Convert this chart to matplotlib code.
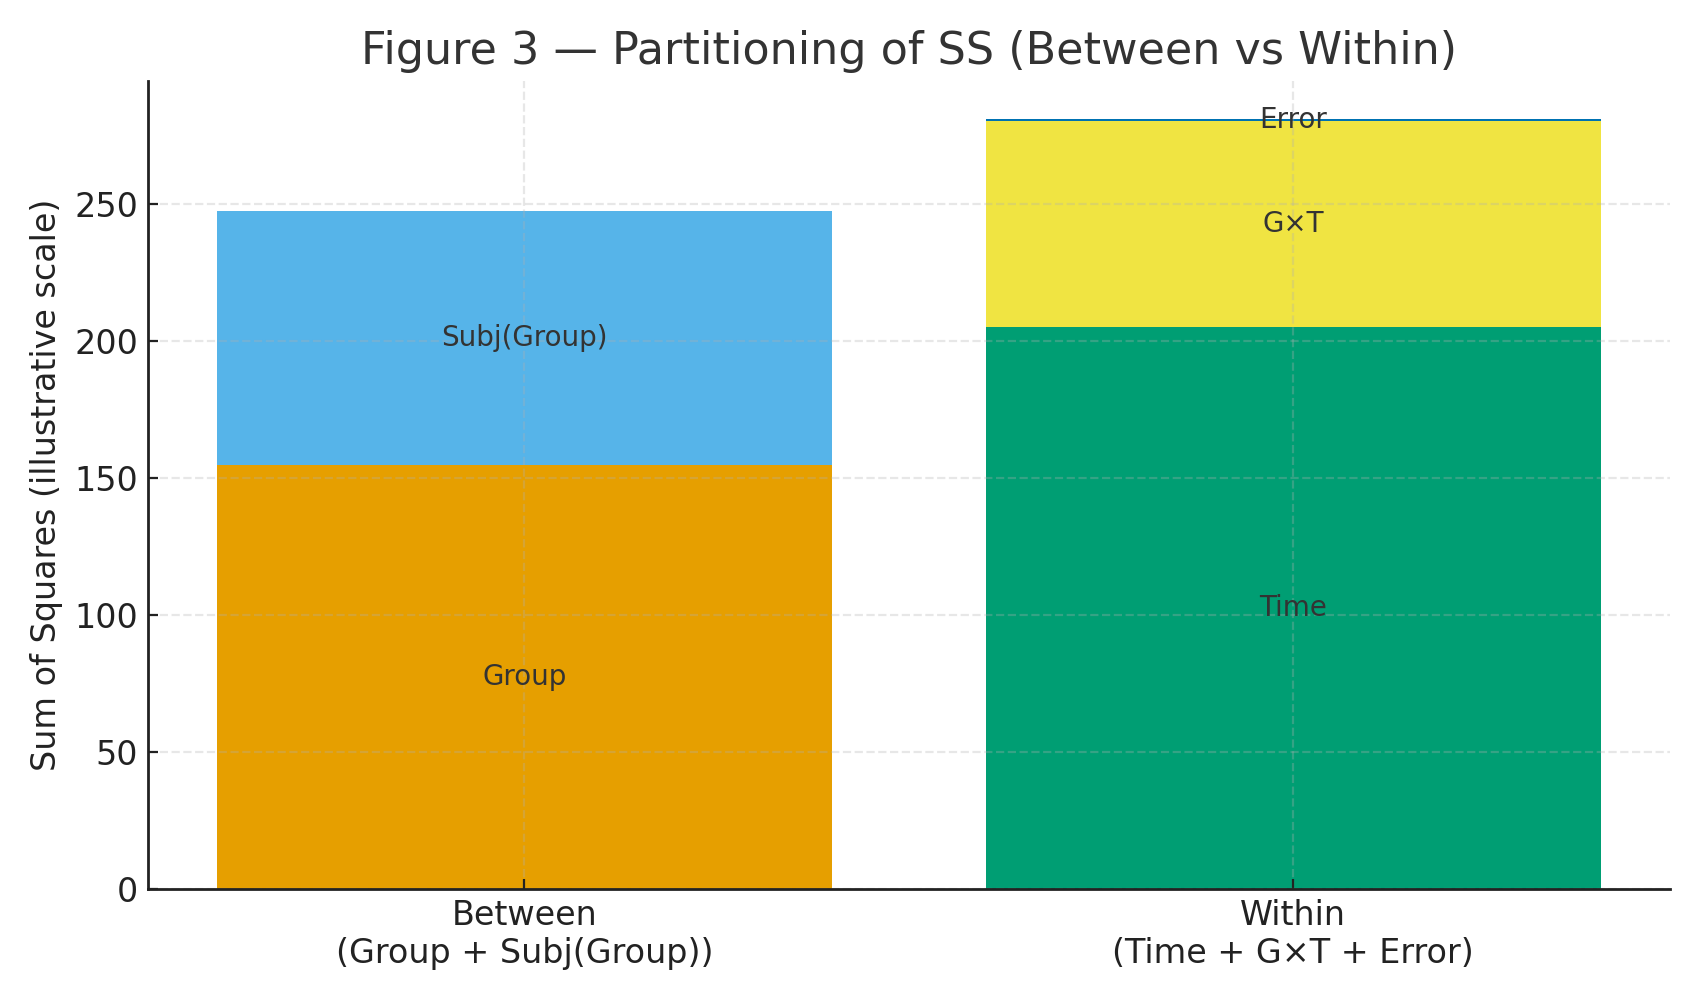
import matplotlib.pyplot as plt

# categories and segment values (sum of squares, illustrative)
categories = ["Between\n(Group + Subj(Group))", "Within\n(Time + G×T + Error)"]
between_labels = ["Group", "Subj(Group)"]
between_values = [154.5, 92.7]
within_labels = ["Time", "G×T", "Error"]
within_values = [205.0, 75.2, 0.6]

between_colors = ["#E69F00", "#56B4E9"]
within_colors = ["#009E73", "#F0E442", "#0072B2"]


def stack(ax, x, values, labels, colors):
    bottom = 0
    for v, lab, c in zip(values, labels, colors):
        ax.bar(x, v, bottom=bottom, color=c, width=0.8)
        ax.text(x, bottom + v / 2, lab, ha="center", va="center",
                fontsize=10, color="#333333")
        bottom += v


def main():
    fig, ax = plt.subplots(figsize=(8.5, 5), dpi=200)

    stack(ax, 0, between_values, between_labels, between_colors)
    stack(ax, 1, within_values, within_labels, within_colors)

    ax.set_xticks([0, 1])
    ax.set_xticklabels(categories, fontsize=12, color="#222222")
    ax.tick_params(axis="both", direction="in", color="#222222")
    ax.tick_params(axis="y", labelsize=12, labelcolor="#222222")
    ax.set_ylabel("Sum of Squares (illustrative scale)", fontsize=12, color="#222222")
    ax.set_title("Figure 3 — Partitioning of SS (Between vs Within)",
                 fontsize=16, color="#333333")

    ax.grid(True, linestyle="--", alpha=0.3)
    ax.spines["top"].set_visible(False)
    ax.spines["right"].set_visible(False)
    for s in ("left", "bottom"):
        ax.spines[s].set_linewidth(1.0)
        ax.spines[s].set_color("#222222")

    fig.tight_layout()
    fig.savefig("out.png")


if __name__ == "__main__":
    main()
